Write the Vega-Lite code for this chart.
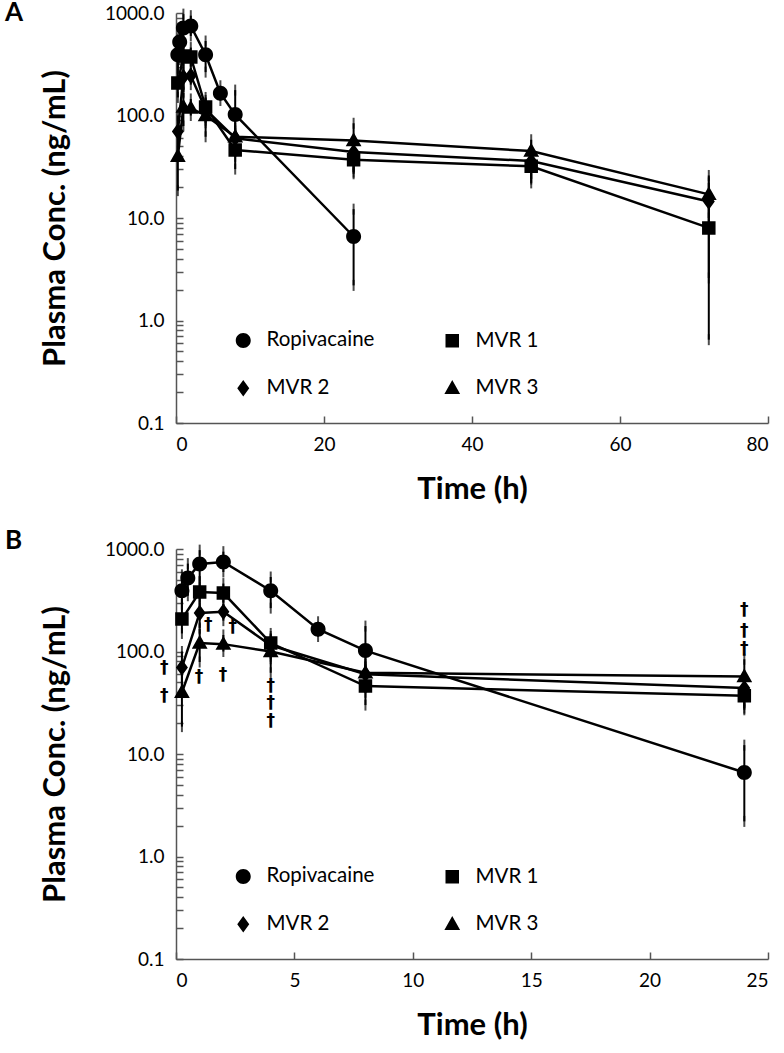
{
  "$schema": "https://vega.github.io/schema/vega-lite/v6.json",
  "autosize": {"type": "none"},
  "padding": {"left": 176, "top": 13, "right": 608, "bottom": 1040},
  "background": "white",
  "config": {
    "view": {"stroke": null},
    "font": "Lato",
    "axis": {
      "grid": false,
      "domainColor": "#555555",
      "domainWidth": 1.5,
      "tickColor": "#555555",
      "tickWidth": 1.5,
      "tickSize": -7,
      "labelFont": "Lato",
      "labelFontSize": 19,
      "labelColor": "black",
      "labelPadding": 19,
      "titleFont": "Lato",
      "titleFontWeight": "bold",
      "titleColor": "black",
      "titleFontSize": 31
    },
    "legend": {
      "orient": "none",
      "legendX": 57,
      "legendY": 317,
      "columns": 2,
      "columnPadding": 55,
      "rowPadding": 24,
      "padding": 0,
      "labelFont": "Lato",
      "labelFontSize": 20.5,
      "labelColor": "black",
      "labelOffset": 13,
      "symbolSize": 225,
      "symbolStrokeColor": "black",
      "symbolStrokeWidth": 2,
      "symbolFillColor": "black"
    }
  },
  "datasets": {
    "pk": [
      {"series": "Ropivacaine", "t": 0.25, "v": 392, "lo": 290, "hi": 560},
      {"series": "Ropivacaine", "t": 0.5, "v": 521, "lo": 350, "hi": 720},
      {"series": "Ropivacaine", "t": 1, "v": 714, "lo": 480, "hi": 975},
      {"series": "Ropivacaine", "t": 2, "v": 747, "lo": 597, "hi": 942},
      {"series": "Ropivacaine", "t": 4, "v": 392, "lo": 265, "hi": 533},
      {"series": "Ropivacaine", "t": 6, "v": 165, "lo": 140, "hi": 195},
      {"series": "Ropivacaine", "t": 8, "v": 102, "lo": 45, "hi": 177},
      {"series": "Ropivacaine", "t": 24, "v": 6.6, "lo": 2.2, "hi": 12.2},
      {"series": "MVR 1", "t": 0.25, "v": 207, "lo": 150, "hi": 290},
      {"series": "MVR 1", "t": 1, "v": 381, "lo": 300, "hi": 480},
      {"series": "MVR 1", "t": 2, "v": 372, "lo": 300, "hi": 460},
      {"series": "MVR 1", "t": 4, "v": 121, "lo": 85, "hi": 150},
      {"series": "MVR 1", "t": 8, "v": 46, "lo": 30, "hi": 62},
      {"series": "MVR 1", "t": 24, "v": 37, "lo": 27, "hi": 45},
      {"series": "MVR 1", "t": 48, "v": 32, "lo": 24, "hi": 40},
      {"series": "MVR 1", "t": 72, "v": 8, "lo": 0.65, "hi": 15},
      {"series": "MVR 2", "t": 0.25, "v": 70, "lo": 45, "hi": 100},
      {"series": "MVR 2", "t": 1, "v": 238, "lo": 170, "hi": 300},
      {"series": "MVR 2", "t": 2, "v": 244, "lo": 200, "hi": 290},
      {"series": "MVR 2", "t": 4, "v": 115, "lo": 90, "hi": 140},
      {"series": "MVR 2", "t": 8, "v": 60, "lo": 45, "hi": 75},
      {"series": "MVR 2", "t": 24, "v": 44, "lo": 33, "hi": 55},
      {"series": "MVR 2", "t": 48, "v": 36, "lo": 28, "hi": 45},
      {"series": "MVR 2", "t": 72, "v": 14.5, "lo": 2.6, "hi": 22},
      {"series": "MVR 3", "t": 0.25, "v": 40, "lo": 18.5, "hi": 65},
      {"series": "MVR 3", "t": 1, "v": 121, "lo": 79, "hi": 166},
      {"series": "MVR 3", "t": 2, "v": 118, "lo": 100, "hi": 145},
      {"series": "MVR 3", "t": 4, "v": 100, "lo": 62, "hi": 130},
      {"series": "MVR 3", "t": 8, "v": 62, "lo": 40, "hi": 80},
      {"series": "MVR 3", "t": 24, "v": 57, "lo": 28, "hi": 84},
      {"series": "MVR 3", "t": 48, "v": 45, "lo": 22, "hi": 58},
      {"series": "MVR 3", "t": 72, "v": 17, "lo": 10, "hi": 26}
    ],
    "dag": [
      {"t": -0.5, "v": 69, "s": "†"},
      {"t": -0.5, "v": 37, "s": "†"},
      {"t": 1.36, "v": 181, "s": "†"},
      {"t": 2.4, "v": 173, "s": "†"},
      {"t": 0.97, "v": 57, "s": "†"},
      {"t": 1.98, "v": 59, "s": "†"},
      {"t": 4, "v": 46, "s": "†"},
      {"t": 4, "v": 31.5, "s": "†"},
      {"t": 4, "v": 21, "s": "†"},
      {"t": 24, "v": 254, "s": "†"},
      {"t": 24, "v": 160, "s": "†"},
      {"t": 24, "v": 106, "s": "†"}
    ]
  },
  "spacing": 126,
  "bounds": "flush",
  "resolve": {"scale": {"shape": "independent", "x": "independent"}, "legend": {"shape": "independent"}},
  "vconcat": [
    {
      "width": 592,
      "height": 410,
      "title": {"text": "A", "anchor": "start", "frame": "group", "dx": -171, "dy": 43, "offset": 0, "baseline": "alphabetic", "fontSize": 26, "fontWeight": "bold", "font": "Lato", "color": "black"},
      "data": {"name": "pk"},
      "encoding": {
        "x": {"field": "t", "type": "quantitative", "title": "Time (h)",
          "scale": {"domain": [0, 80]},
          "axis": {"values": [0, 20, 40, 60, 80], "titleBaseline": "middle", "titleY": 66}}
      },
      "layer": [
        {
          "mark": {"type": "line", "color": "black", "strokeWidth": 2.5},
          "encoding": {
            "y": {"field": "v", "type": "quantitative", "title": "Plasma Conc. (ng/mL)",
              "scale": {"type": "log", "domain": [0.1, 1000]},
              "axis": {"values": [0.1,0.2,0.3,0.4,0.5,0.6,0.7,0.8,0.9,1,2,3,4,5,6,7,8,9,10,20,30,40,50,60,70,80,90,100,200,300,400,500,600,700,800,900,1000],
                "labelExpr": "indexof([0.1,1,10,100,1000], datum.value) >= 0 ? format(datum.value, '.1f') : ''",
                "labelOverlap": false, "titleBaseline": "middle", "titleX": -121, "titleY": 205}},
            "detail": {"field": "series"}
          }
        },
        {
          "mark": {"type": "rule", "color": "black", "strokeWidth": 2},
          "encoding": {
            "y": {"field": "lo", "type": "quantitative", "title": "Plasma Conc. (ng/mL)"},
            "y2": {"field": "hi"}
          }
        },
        {
          "mark": {"type": "tick", "orient": "vertical", "color": "black", "size": 11, "thickness": 2},
          "encoding": {"y": {"field": "lo", "type": "quantitative", "title": "Plasma Conc. (ng/mL)"}}
        },
        {
          "mark": {"type": "tick", "orient": "vertical", "color": "black", "size": 11, "thickness": 2},
          "encoding": {"y": {"field": "hi", "type": "quantitative", "title": "Plasma Conc. (ng/mL)"}}
        },
        {
          "mark": {"type": "point", "filled": true, "opacity": 1, "size": 225, "fill": "black", "stroke": "black", "strokeWidth": 0},
          "encoding": {
            "y": {"field": "v", "type": "quantitative", "title": "Plasma Conc. (ng/mL)"},
            "shape": {"field": "series", "type": "nominal",
              "scale": {"domain": ["Ropivacaine", "MVR 1", "MVR 2", "MVR 3"],
                "range": [
                  "M-1,0A1,1,0,1,0,1,0A1,1,0,1,0,-1,0ZM-2.4,0H-1M1,0H2.4",
                  "M-0.9,-0.9H0.9V0.9H-0.9ZM-2.4,0H-0.9M0.9,0H2.4",
                  "M0,-1.1L0.8,0L0,1.1L-0.8,0ZM-2.4,0H-0.8M0.8,0H2.4",
                  "M0,-1.1L1.05,0.75H-1.05ZM-2.4,0H-0.62M0.62,0H2.4"
                ]},
              "legend": {"title": null, "values": ["Ropivacaine", "MVR 2", "MVR 1", "MVR 3"], "symbolStrokeWidth": 2, "symbolStrokeColor": "black",
                "encode": {"symbols": {"fill": {"value": "black"}, "stroke": {"value": "black"}, "strokeWidth": {"value": 2}, "opacity": {"value": 1}}}}
            }
          }
        }
      ]
    },
    {
      "width": 592,
      "height": 410,
      "title": {"text": "B", "anchor": "start", "frame": "group", "dx": -171, "dy": 35, "offset": 0, "baseline": "alphabetic", "fontSize": 26, "fontWeight": "bold", "font": "Lato", "color": "black"},
      "encoding": {
        "x": {"field": "t", "type": "quantitative", "title": "Time (h)",
          "scale": {"domain": [0, 25]},
          "axis": {"values": [0, 5, 10, 15, 20, 25], "titleBaseline": "middle", "titleY": 66}}
      },
      "layer": [
        {
          "data": {"name": "pk"},
          "transform": [{"filter": "datum.t <= 24"}],
          "layer": [
            {
              "mark": {"type": "line", "color": "black", "strokeWidth": 2.5},
              "encoding": {
                "y": {"field": "v", "type": "quantitative", "title": "Plasma Conc. (ng/mL)",
                  "scale": {"type": "log", "domain": [0.1, 1000]},
                  "axis": {"values": [0.1,0.2,0.3,0.4,0.5,0.6,0.7,0.8,0.9,1,2,3,4,5,6,7,8,9,10,20,30,40,50,60,70,80,90,100,200,300,400,500,600,700,800,900,1000],
                    "labelExpr": "indexof([0.1,1,10,100,1000], datum.value) >= 0 ? format(datum.value, '.1f') : ''",
                    "labelOverlap": false, "titleBaseline": "middle", "titleX": -121, "titleY": 205}},
                "detail": {"field": "series"}
              }
            },
            {
              "mark": {"type": "rule", "color": "black", "strokeWidth": 2},
              "encoding": {
                "y": {"field": "lo", "type": "quantitative", "title": "Plasma Conc. (ng/mL)"},
                "y2": {"field": "hi"}
              }
            },
            {
              "mark": {"type": "tick", "orient": "vertical", "color": "black", "size": 11, "thickness": 2},
              "encoding": {"y": {"field": "lo", "type": "quantitative", "title": "Plasma Conc. (ng/mL)"}}
            },
            {
              "mark": {"type": "tick", "orient": "vertical", "color": "black", "size": 11, "thickness": 2},
              "encoding": {"y": {"field": "hi", "type": "quantitative", "title": "Plasma Conc. (ng/mL)"}}
            },
            {
              "mark": {"type": "point", "filled": true, "opacity": 1, "size": 225, "fill": "black", "stroke": "black", "strokeWidth": 0},
              "encoding": {
                "y": {"field": "v", "type": "quantitative", "title": "Plasma Conc. (ng/mL)"},
                "shape": {"field": "series", "type": "nominal",
                  "scale": {"domain": ["Ropivacaine", "MVR 1", "MVR 2", "MVR 3"],
                    "range": [
                      "M-1,0A1,1,0,1,0,1,0A1,1,0,1,0,-1,0ZM-2.4,0H-1M1,0H2.4",
                      "M-0.9,-0.9H0.9V0.9H-0.9ZM-2.4,0H-0.9M0.9,0H2.4",
                      "M0,-1.1L0.8,0L0,1.1L-0.8,0ZM-2.4,0H-0.8M0.8,0H2.4",
                      "M0,-1.1L1.05,0.75H-1.05ZM-2.4,0H-0.62M0.62,0H2.4"
                    ]},
                  "legend": {"title": null, "values": ["Ropivacaine", "MVR 2", "MVR 1", "MVR 3"], "symbolStrokeWidth": 2, "symbolStrokeColor": "black",
                    "encode": {"symbols": {"fill": {"value": "black"}, "stroke": {"value": "black"}, "strokeWidth": {"value": 2}, "opacity": {"value": 1}}}}
                }
              }
            }
          ]
        },
        {
          "data": {"name": "dag"},
          "mark": {"type": "text", "font": "DejaVu Sans", "fontSize": 17, "fontWeight": "bold", "color": "black", "baseline": "middle", "align": "center", "clip": false},
          "encoding": {
            "y": {"field": "v", "type": "quantitative", "title": "Plasma Conc. (ng/mL)"},
            "text": {"field": "s"}
          }
        }
      ]
    }
  ]
}
